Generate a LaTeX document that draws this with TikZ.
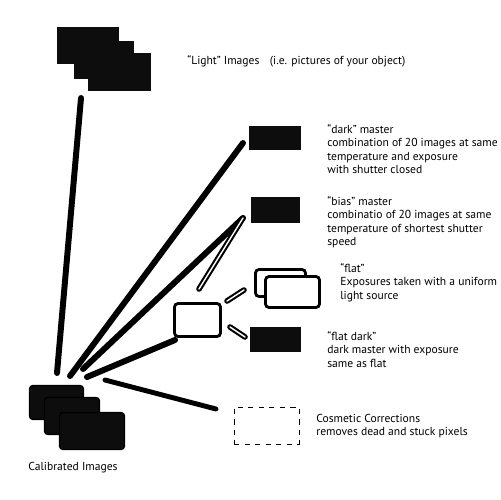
\documentclass[tikz,border=0pt]{standalone}
\usepackage{fontspec}
\setmainfont{PT Sans}
\usetikzlibrary{calc}

\begin{document}
\begin{tikzpicture}[x=0.02cm,y=-0.02cm,
        plate/.style={fill=black!95,inner sep=0pt},
        calplate/.style={fill=black!95,draw=black,line width=0.8pt,rounded corners=2pt,inner sep=0pt},
        flatplate/.style={fill=white,draw=black,line width=1.6pt,rounded corners=2pt,inner sep=0pt},
        link/.style={line width=3.4pt,line cap=round},
        hollow/.style={line width=1.2pt,double=white,double distance=0.8pt,line cap=round},
        note/.style={anchor=north west,align=left,inner sep=0pt,font=\fontsize{6.6}{7.6}\selectfont}]
        \useasboundingbox (0,0) rectangle (500,500);
        \node[plate,minimum width=1.24cm,minimum height=0.74cm] (L1) at (88,45.5) {};
        \node[plate,minimum width=1.2cm,minimum height=0.76cm] (L2) at (104,60) {};
        \node[plate,minimum width=1.26cm,minimum height=0.76cm] (L3) at (119.5,72) {};
        \node[plate,minimum width=1.04cm,minimum height=0.48cm] (D) at (275,138) {};
        \node[plate,minimum width=0.98cm,minimum height=0.52cm] (B) at (275.5,210) {};
        \node[flatplate,minimum width=1.0cm,minimum height=0.54cm] (F1) at (280.5,283) {};
        \node[flatplate,minimum width=1.08cm,minimum height=0.62cm] (F2) at (292.5,292) {};
        \node[plate,minimum width=1.02cm,minimum height=0.5cm] (FD) at (275.5,339.5) {};
        \node[flatplate,minimum width=0.92cm,minimum height=0.66cm] (FB) at (197.5,320) {};
        \node[calplate,minimum width=1.08cm,minimum height=0.68cm] (C1) at (56.5,402.5) {};
        \node[calplate,minimum width=1.1cm,minimum height=0.74cm] (C2) at (72,416) {};
        \node[calplate,minimum width=1.3cm,minimum height=0.74cm] (C3) at (92,431) {};
        \node[draw,dashed,line width=0.5pt,inner sep=0pt,minimum width=1.3cm,minimum height=0.74cm] (CC) at (266.5,425.5) {};
        \coordinate (l0) at (81,98);
        \coordinate (l1) at (57,373);
        \coordinate (d0) at (243,143);
        \coordinate (d1) at (70,376);
        \coordinate (b0) at (243,218);
        \coordinate (b1) at (83,369);
        \coordinate (b2) at (199,289);
        \coordinate (f0) at (175,340);
        \coordinate (f1) at (87,377);
        \coordinate (f2) at (227,301);
        \coordinate (f3) at (244,290);
        \coordinate (f4) at (230,327);
        \coordinate (f5) at (245,337);
        \coordinate (c0) at (105,380);
        \coordinate (c1) at (216,409);
        \draw[link] (l0) -- (l1);
        \draw[link] (d0) -- (d1);
        \draw[link] (b0) -- (b1);
        \draw[link] (f0) -- (f1);
        \draw[link,line width=2.8pt] (c0) -- (c1);
        \draw[hollow] (b0) -- (b2);
        \draw[hollow] (f2) -- (f3);
        \draw[hollow] (f4) -- (f5);
        \node[note] (TL) at (187,55) {“Light” Images\hspace{0.9em}(i.e. pictures of your object)};
        \node[note] (TD) at (327,124) {“dark” master\\combination of 20 images at same\\temperature and exposure\\with shutter closed};
        \node[note] (TB) at (327,196) {“bias” master\\combinatio of 20 images at same\\temperature of shortest shutter\\speed};
        \node[note] (TF) at (340,263) {“flat”\\Exposures taken with a uniform\\light source};
        \node[note] (TFD) at (327,331) {“flat dark”\\dark master with exposure\\same as flat};
        \node[note] (TC) at (316,414) {Cosmetic Corrections\\removes dead and stuck pixels};
        \node[note] (TCal) at (28,462) {Calibrated Images};
    \end{tikzpicture}
\end{document}
